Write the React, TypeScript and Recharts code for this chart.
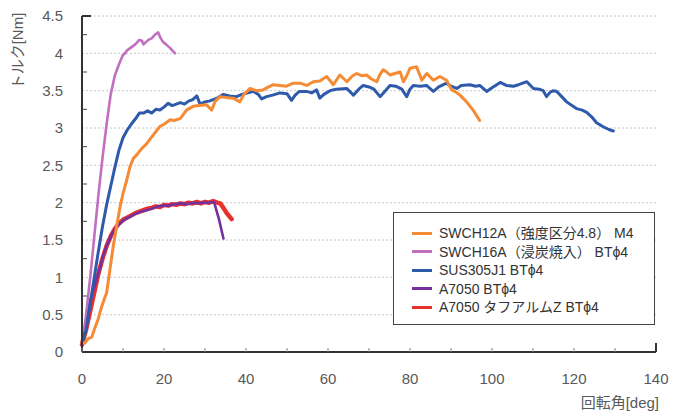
import React from 'react';
import { LineChart, Line, XAxis, YAxis, CartesianGrid, Legend } from 'recharts';

const FONT = '"Liberation Sans", "Noto Sans CJK JP", sans-serif';

const xTicks = [0, 10, 20, 30, 40, 50, 60, 70, 80, 90, 100, 110, 120, 130, 140];
const xTickLabels = [0, 20, 40, 60, 80, 100, 120, 140];
const yTicks = [0, 0.25, 0.5, 0.75, 1, 1.25, 1.5, 1.75, 2, 2.25, 2.5, 2.75, 3, 3.25, 3.5, 3.75, 4, 4.25, 4.5];
const yGridValues = [0, 0.5, 1, 1.5, 2, 2.5, 3, 3.5, 4, 4.5];
const yTickLabels = [0, 0.5, 1, 1.5, 2, 2.5, 3, 3.5, 4, 4.5];

const xTitle = '回転角[deg]';
const yTitle = 'トルク[Nm]';

const seriesNames = [
  'SWCH12A（強度区分4.8） M4',
  'SWCH16A（浸炭焼入） BTϕ4',
  'SUS305J1 BTϕ4',
  'A7050 BTϕ4',
  'A7050 タフアルムZ BTϕ4',
];
const seriesColors = ['#f58b35', '#c170c0', '#2e5aac', '#74309e', '#e8302c'];

const swch12a: [number, number][] = [
  [0, 0.12], [0.7, 0.12], [1.5, 0.18], [2.4, 0.2], [3, 0.3], [4, 0.45], [4.8, 0.61], [5.5, 0.72], [6, 0.79],
  [6.8, 1.1], [7.6, 1.41], [8.5, 1.7], [9.3, 1.95], [10, 2.12], [10.9, 2.3], [11.7, 2.48], [12.5, 2.59],
  [13.5, 2.65], [14.5, 2.72], [15.8, 2.79], [17, 2.88], [18, 2.95], [19, 3.02], [20, 3.05], [21.5, 3.11],
  [22.5, 3.1], [24, 3.13], [25.5, 3.24], [27.1, 3.29], [28.5, 3.3], [30.4, 3.31], [31.6, 3.24], [32.5, 3.36],
  [33.7, 3.42], [35, 3.41], [36.9, 3.4], [38.5, 3.35], [39.5, 3.45], [41, 3.53], [42.5, 3.5], [44.2, 3.51],
  [45.5, 3.55], [46.7, 3.58], [48.3, 3.57], [49.9, 3.56], [51.5, 3.6], [53.2, 3.6], [54.8, 3.57], [56.4, 3.62],
  [58, 3.63], [59.7, 3.69], [61.3, 3.58], [62.9, 3.71], [64.6, 3.62], [66, 3.7], [67, 3.73], [68.2, 3.7],
  [69.4, 3.71], [70.5, 3.66], [71.9, 3.62], [72.7, 3.72], [73.5, 3.78], [74.3, 3.75], [75.1, 3.71], [76.3, 3.73],
  [77.6, 3.75], [78.4, 3.62], [79.2, 3.7], [80, 3.8], [81.6, 3.82], [82.9, 3.64], [84.1, 3.73], [85.7, 3.64],
  [87.3, 3.69], [88.9, 3.64], [90.2, 3.51], [91.2, 3.48], [92.2, 3.44], [93.8, 3.35], [95.4, 3.24], [97, 3.1],
];

const swch16a: [number, number][] = [
  [0, 0.1], [1, 0.5], [2, 1.0], [3, 1.55], [4, 2.1], [5, 2.6], [6, 3.05], [7, 3.45], [8, 3.7], [9, 3.85],
  [10, 3.98], [10.5, 4.0], [11, 4.04], [12, 4.08], [13, 4.12], [14, 4.18], [14.6, 4.17], [15, 4.12],
  [15.6, 4.15], [16.2, 4.18], [17, 4.2], [17.8, 4.25], [18.6, 4.28], [19.2, 4.2], [19.8, 4.15], [20.5, 4.12],
  [21.5, 4.07], [22.7, 4.0],
];

const sus305j1: [number, number][] = [
  [0, 0.1], [1, 0.3], [2, 0.65], [3, 1.0], [4, 1.35], [5, 1.68], [6, 1.97], [7, 2.22], [8, 2.47], [9, 2.7],
  [10, 2.87], [11, 2.97], [12, 3.05], [13, 3.12], [14, 3.2], [15, 3.2], [16, 3.23], [17, 3.2], [18, 3.25],
  [19, 3.24], [20, 3.28], [21, 3.33], [22, 3.3], [23, 3.32], [24, 3.34], [25, 3.32], [26, 3.36], [27, 3.38],
  [28, 3.43], [28.8, 3.32], [30, 3.35], [31, 3.36], [32, 3.38], [33, 3.4], [34.5, 3.45], [36, 3.43], [37.7, 3.42],
  [39, 3.45], [40.5, 3.47], [41.8, 3.49], [43, 3.45], [43.8, 3.39], [45, 3.42], [46.5, 3.44], [48.3, 3.47],
  [50, 3.46], [51.1, 3.37], [52, 3.44], [53, 3.49], [54.8, 3.49], [56, 3.47], [57.2, 3.51], [58, 3.4], [59, 3.45],
  [60.5, 3.5], [62, 3.52], [64.6, 3.53], [66.2, 3.44], [67.5, 3.52], [68.6, 3.57], [70, 3.55], [71.2, 3.52],
  [72.7, 3.42], [74, 3.5], [75.1, 3.57], [76.5, 3.56], [78, 3.52], [79.2, 3.42], [80, 3.52], [80.8, 3.57],
  [82.5, 3.56], [84, 3.57], [85.7, 3.49], [87, 3.55], [88.9, 3.6], [90, 3.56], [91.4, 3.53], [92.5, 3.57],
  [94.6, 3.58], [96, 3.56], [97, 3.57], [98.7, 3.49], [100, 3.54], [102, 3.61], [103.5, 3.57], [105.2, 3.56],
  [106.5, 3.58], [108.5, 3.62], [110.1, 3.53], [111.5, 3.52], [112.5, 3.5], [113.3, 3.42], [114.2, 3.48],
  [115, 3.5], [115.8, 3.49], [117, 3.42], [118.2, 3.35], [119.5, 3.3], [120.6, 3.26], [122, 3.24], [123.1, 3.21],
  [124.3, 3.15], [125.5, 3.07], [127, 3.02], [128.5, 2.98], [129.6, 2.96],
];

const a7050: [number, number][] = [
  [0, 0.15], [0.5, 0.25], [1, 0.4], [2, 0.68], [3, 0.88], [3.6, 0.98], [4.5, 1.15], [5.2, 1.3], [6, 1.42],
  [7, 1.55], [8, 1.64], [8.5, 1.68], [9.5, 1.73], [10.5, 1.78], [11.7, 1.81], [13, 1.85], [14.5, 1.88],
  [15.8, 1.9], [17, 1.92], [18.5, 1.95], [19.8, 1.96], [21, 1.96], [22.5, 1.98], [23.9, 1.99], [25.5, 1.98],
  [27, 2.0], [28, 1.99], [29.5, 2.0], [31, 2.0], [32.2, 2.01], [33.4, 1.78], [34.5, 1.52],
];

const a7050Tough: [number, number][] = [
  [0, 0.1], [0.5, 0.2], [1, 0.3], [2, 0.55], [3, 0.8], [4, 1.05], [5, 1.25], [6, 1.42], [7, 1.55], [8, 1.65],
  [9, 1.72], [10, 1.77], [11, 1.8], [12, 1.83], [13, 1.86], [14, 1.88], [15, 1.9], [16, 1.92], [17, 1.93],
  [18, 1.95], [19, 1.94], [20, 1.97], [21, 1.96], [22, 1.98], [23, 1.97], [24, 1.99], [25, 1.98], [26, 2.0],
  [27, 1.99], [28, 2.01], [29, 1.99], [30, 2.01], [31, 2.0], [32, 2.02], [33, 2.0], [33.7, 1.99], [34.5, 1.93],
  [35.3, 1.86], [36.5, 1.78],
];

const toPts = (arr: [number, number][]) => arr.map(([x, y]) => ({ x, y }));

const YTick = (props: any) => {
  const { x, y, payload } = props;
  const v = payload.value;
  const ax = x + 19;
  const isLabel = yTickLabels.includes(v);
  const isTop = v === 4.5;
  return (
    <g>
      {!isLabel && <line x1={ax} x2={ax + 5} y1={y} y2={y} stroke="#444" strokeWidth={1} />}
      {isTop && <line x1={ax} x2={ax + 9} y1={y} y2={y} stroke="#333" strokeWidth={2} />}
      {isLabel && (
        <text x={x} y={y} dy="0.36em" textAnchor="end" fill="#595959" fontSize={15} fontFamily={FONT}>
          {String(v)}
        </text>
      )}
    </g>
  );
};

const XTick = (props: any) => {
  const { x, y, payload } = props;
  const v = payload.value;
  const ay = y - 21;
  const isLabel = xTickLabels.includes(v);
  const isEnd = v === 140;
  return (
    <g>
      {!isEnd && <line x1={x} x2={x} y1={ay} y2={ay - 4} stroke="#888" strokeWidth={1} />}
      {isEnd && <line x1={x} x2={x} y1={ay} y2={ay - 9} stroke="#333" strokeWidth={2} />}
      {isLabel && (
        <text x={x} y={y} dy="0.72em" textAnchor="middle" fill="#595959" fontSize={15} fontFamily={FONT}>
          {String(v)}
        </text>
      )}
    </g>
  );
};

const LegendBox = () => (
  <div
    style={{
      width: 262,
      height: 113,
      boxSizing: 'border-box',
      border: '1.5px solid #444',
      background: '#fff',
      padding: '11px 0 0 18px',
      fontFamily: FONT,
      fontSize: 14,
      lineHeight: '18px',
      color: '#333',
    }}
  >
    {seriesNames.map((n, i) => (
      <div
        key={n}
        style={{ display: 'flex', alignItems: 'center', height: 18.5, lineHeight: '18px', whiteSpace: 'nowrap' }}
      >
        <span style={{ display: 'inline-block', width: 20, height: 3, background: seriesColors[i], marginRight: 7 }} />
        <span style={{ lineHeight: '18px' }}>{n}</span>
      </div>
    ))}
  </div>
);

const XTitle = (props: any) => {
  const vb = props.viewBox;
  return (
    <text x={vb.x + vb.width + 3} y={vb.y + 56} textAnchor="end" fill="#595959" fontSize={15} fontFamily={FONT}>
      {xTitle}
    </text>
  );
};

const YTitle = () => (
  <text x={0} y={0} transform="translate(23,51) rotate(-90)" textAnchor="middle" fill="#595959" fontSize={15} fontFamily={FONT}>
    {yTitle}
  </text>
);

const seriesData = [swch12a, swch16a, sus305j1, a7050, a7050Tough];
// drawing order: red, purple, pink, blue, orange
const drawOrder = [4, 3, 1, 2, 0];
const widths = [3, 2.6, 3, 2.6, 4.5];

export default function App() {
  return (
    <div style={{ position: 'absolute', left: 0, top: 0, background: '#fff' }}>
      <LineChart width={686} height={415} margin={{ top: 16, right: 30, bottom: 0, left: 0 }}>
        <CartesianGrid horizontal vertical={false} horizontalValues={yGridValues} stroke="#c8c8c8" strokeDasharray="2 2" />
        <XAxis
          type="number"
          dataKey="x"
          domain={[0, 140]}
          ticks={xTicks}
          interval={0}
          height={63}
          tickSize={0}
          tickMargin={21}
          tickLine={false}
          axisLine={{ stroke: '#333', strokeWidth: 2 }}
          tick={<XTick />}
          label={<XTitle />}
          allowDuplicatedCategory={false}
        />
        <YAxis
          type="number"
          domain={[0, 4.5]}
          ticks={yTicks}
          interval={0}
          width={82}
          tickSize={0}
          tickMargin={19}
          tickLine={false}
          axisLine={{ stroke: '#333', strokeWidth: 2 }}
          tick={<YTick />}
          label={<YTitle />}
        />
        {drawOrder.map((i) => (
          <Line
            key={seriesNames[i]}
            data={toPts(seriesData[i])}
            dataKey="y"
            name={seriesNames[i]}
            type="linear"
            stroke={seriesColors[i]}
            strokeWidth={widths[i]}
            dot={false}
            strokeLinejoin="round"
            strokeLinecap="round"
            isAnimationActive={false}
          />
        ))}
        <Legend
          layout="horizontal"
          verticalAlign="middle"
          align="center"
          content={<LegendBox />}
          wrapperStyle={{ position: 'absolute', left: 393, top: 212, width: 262, height: 113 }}
        />
      </LineChart>
    </div>
  );
}
